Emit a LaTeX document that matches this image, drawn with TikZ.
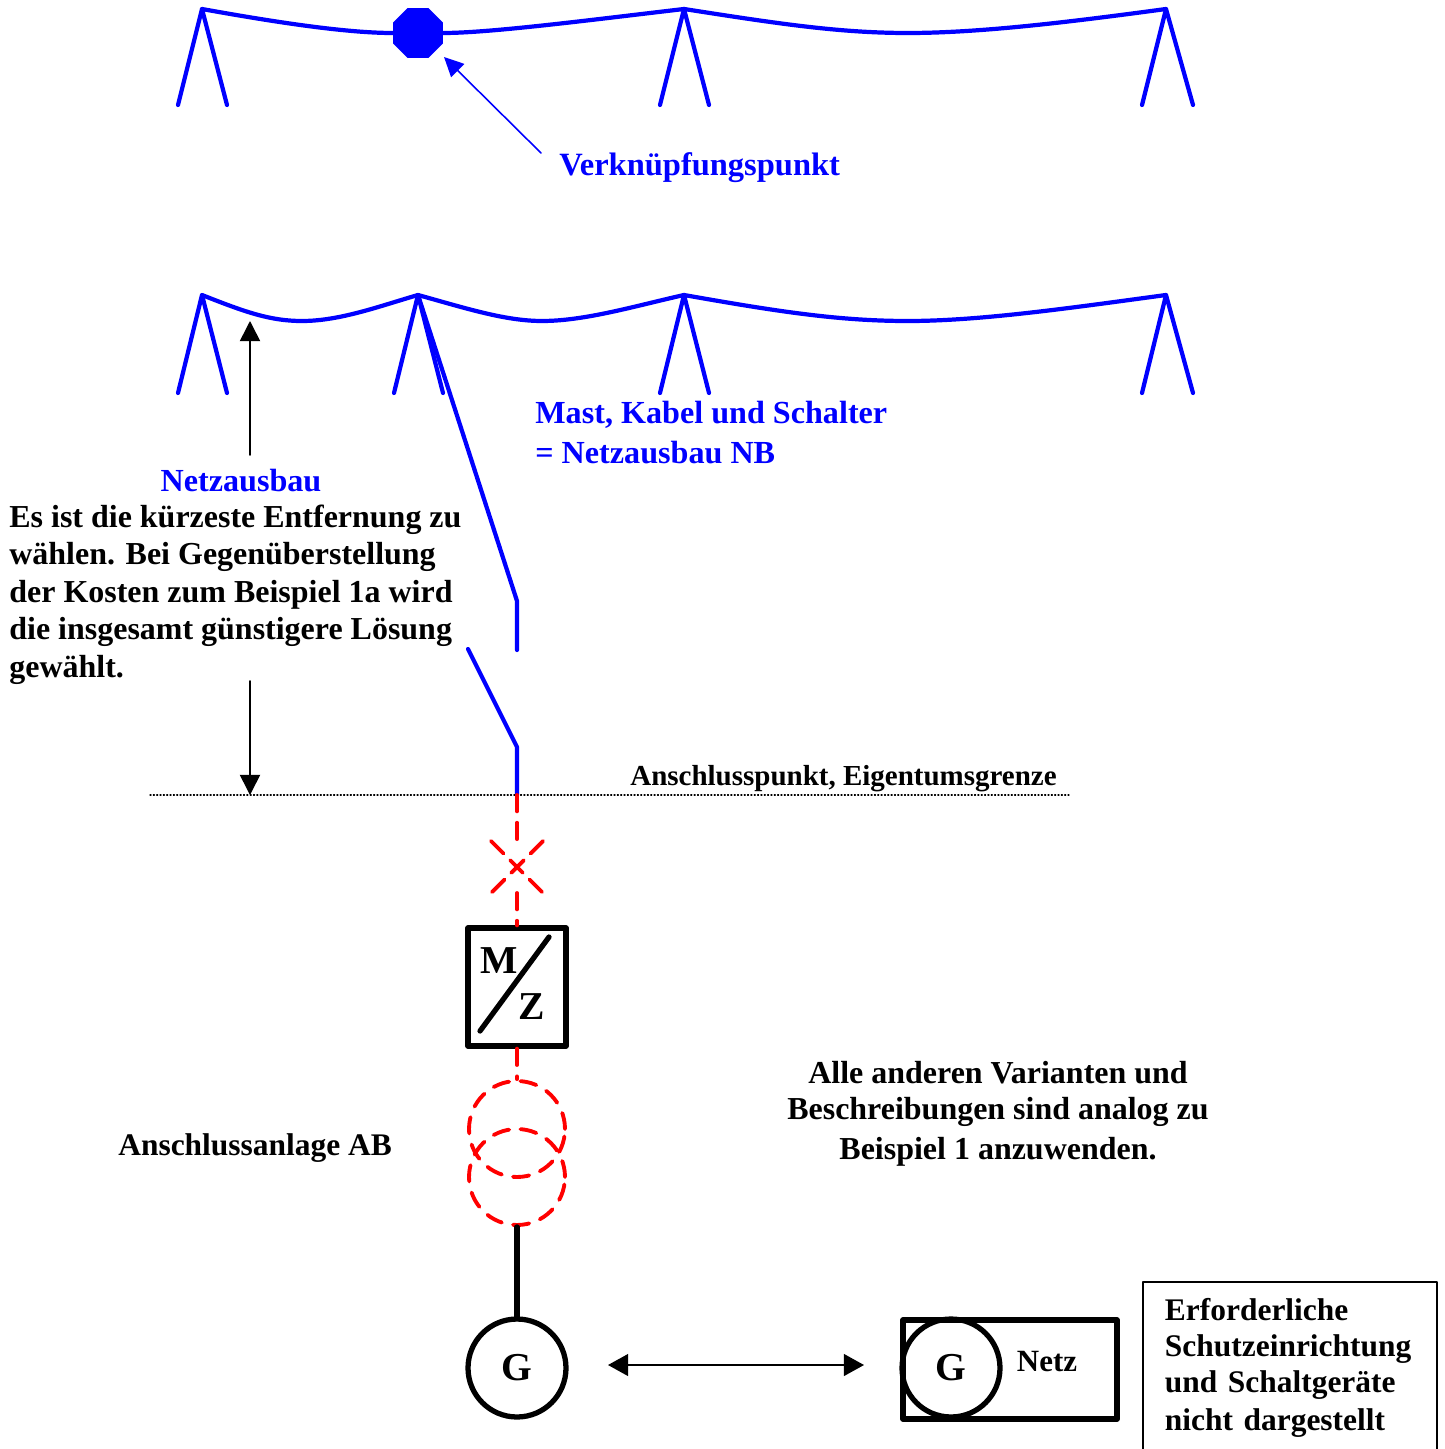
\documentclass[tikz,border=0pt]{standalone}
\usepackage{fontspec}
\setmainfont{Liberation Serif}
\usetikzlibrary{arrows.meta,shapes.geometric}
\tikzset{
    wire/.style={blue,line width=2.4pt},
    lbl/.style={font=\bfseries\fontsize{18.3}{21.3}\selectfont,inner sep=0pt,align=left},
    biglbl/.style={lbl,font=\bfseries\fontsize{22.5}{26}\selectfont},
    smalllbl/.style={lbl,font=\bfseries\fontsize{16.5}{20}\selectfont},
    bluelbl/.style={lbl,text=blue},
    reddash/.style={red,line width=2.2pt,dash pattern=on 9.3pt off 6.5pt},
    crossdash/.style={red,line width=2.2pt,dash pattern=on 10pt off 5.5pt},
    heavy/.style={draw,line width=3pt,inner sep=0pt},
    geno/.style={heavy,circle,minimum size=1.96cm,biglbl},
    thinarrow/.style={line width=0.9pt,-{Triangle[length=11.5pt,width=11.5pt]}}
}
\begin{document}
\begin{tikzpicture}[x=0.02cm,y=-0.02cm, line join=round, line cap=round]
    \useasboundingbox (0,0) rectangle (1444,1449);
    \def\yo{9} \def\yu{295} % Masthoehen
    \coordinate (a1) at (202,\yo); \coordinate (a2) at (684,\yo); \coordinate (a3) at (1166,\yo);
    \coordinate (b1) at (202,\yu); \coordinate (b2) at (418,\yu); \coordinate (b3) at (684,\yu); \coordinate (b4) at (1166,\yu);
    \foreach \p/\r in {a1/0.5,a2/0.5,a3/0.54} {
        \draw[wire] ([xshift=-0.48cm,yshift=-1.92cm]\p) -- (\p) -- ([xshift=\r cm,yshift=-1.92cm]\p);
    }
    \foreach \p/\r in {b1/0.5,b2/0.5,b3/0.5,b4/0.54} {
        \draw[wire] ([xshift=-0.48cm,yshift=-1.96cm]\p) -- (\p) -- ([xshift=\r cm,yshift=-1.96cm]\p);
    }
    \node[regular polygon,regular polygon sides=8,minimum size=1.08cm,fill=blue,inner sep=0pt] (vkp) at (418,33) {};
    \draw[wire] (a1) .. controls (285,24) and (350,33) .. (vkp);
    \draw[wire] (vkp) .. controls (490,33) and (590,20) .. (a2);
    \draw[wire] (a2) .. controls (780,24) and (840,33) .. (908,33) .. controls (980,33) and (1070,22) .. (a3);
    \draw[wire] (b1) .. controls (245,312) and (270,321) .. (302,321) .. controls (340,321) and (380,306) .. (b2);
    \draw[wire] (b2) .. controls (465,308) and (505,321) .. (542,321) .. controls (585,321) and (635,306) .. (b3);
    \draw[wire] (b3) .. controls (780,312) and (840,321) .. (908,321) .. controls (980,321) and (1070,308) .. (b4);
    % Kabel und Schalter
    \coordinate (k1) at (517,601); \coordinate (k2) at (517,650);
    \coordinate (s1) at (468,649); \coordinate (s2) at (517,747);
    \coordinate (ap) at (517,795);
    \draw[wire] (b2) -- (k1) -- (k2);
    \draw[wire] (s1) -- (s2) -- (ap);
    \coordinate (dl) at (150,795); \coordinate (dr) at (1069,795);
    \draw[line width=0.7pt,dash pattern=on 0.6pt off 1.3pt] (dl) -- (dr);
    % Anschlussanlage
    \node[heavy,rectangle,minimum width=1.96cm,minimum height=2.36cm] (meter) at (517,987) {};
    \node[biglbl] (mm) at (499,961) {M};
    \node[biglbl] (zz) at (532,1007) {Z};
    \coordinate (d1) at (480,1031); \coordinate (d2) at (549,937);
    \draw[line width=3pt] (d1) -- (d2);
    \coordinate (x1) at (491,841); \coordinate (x2) at (543,893);
    \coordinate (x3) at (543,841); \coordinate (x4) at (491,893);
    \coordinate (v3) at (517,841); \coordinate (v4) at (517,893);
    \draw[reddash] (ap) -- (v3);
    \draw[reddash] (v4) -- (meter.north);
    \draw[crossdash] (x1) -- (x2);
    \draw[crossdash] (x3) -- (x4);
    \node[draw=red,circle,reddash,minimum size=1.92cm,inner sep=0pt] (tr1) at (517,1129) {};
    \node[draw=red,circle,reddash,minimum size=1.92cm,inner sep=0pt] (tr2) at (517,1177) {};
    \draw[reddash] (meter.south) -- (tr1.north);
    \node[geno] (g1) at (517,1368) {G};
    \draw[line width=3pt] (tr2.south) -- (g1.north);
    \node[heavy,rectangle,minimum width=4.28cm,minimum height=1.98cm] (netz) at (1010,1369.5) {};
    \node[geno] (g2) at (951,1368) {G};
    \node[smalllbl,font=\bfseries\fontsize{17.6}{20}\selectfont] (nz) at (1047,1362) {Netz};
    \coordinate (p1) at (608,1365); \coordinate (p2) at (864,1365);
    \draw[line width=0.9pt,{Triangle[length=11.5pt,width=12.5pt]}-{Triangle[length=11.5pt,width=12.5pt]}] (p1) -- (p2);
    % Pfeile
    \coordinate (v1) at (541,153); \coordinate (v2) at (444,57);
    \draw[thinarrow,blue,-{Triangle[length=11pt,width=10.5pt]}] (v1) -- (v2);
    \coordinate (n1) at (250,455); \coordinate (n2) at (250,321);
    \coordinate (n3) at (250,681); \coordinate (n4) at (250,795);
    \draw[thinarrow] (n1) -- (n2);
    \draw[thinarrow] (n3) -- (n4);
    % Texte
    \node[bluelbl,font=\bfseries\fontsize{18.5}{21.3}\selectfont,anchor=base west] (vt) at (559,176) {Verknüpfungspunkt};
    \node[bluelbl,anchor=north west] (mk) at (535,401) {Mast, Kabel und Schalter\\[1.5pt]= Netzausbau NB};
    \node[bluelbl,anchor=base] (na) at (241,491) {Netzausbau};
    \node[lbl,font=\bfseries\fontsize{18.2}{21.1}\selectfont,anchor=north west] (es) at (9,505) {Es ist die kürzeste Entfernung zu\\wählen. Bei Gegenüberstellung\\der Kosten zum Beispiel 1a wird\\die insgesamt günstigere Lösung\\[1pt]gewählt.};
    \node[smalllbl,anchor=base west] (ae) at (630,785) {Anschlusspunkt, Eigentumsgrenze};
    \node[lbl,font=\bfseries\fontsize{17.9}{21.3}\selectfont,anchor=base west] (ab) at (118,1155) {Anschlussanlage AB};
    \node[lbl,font=\bfseries\fontsize{18.2}{20.5}\selectfont,align=center,anchor=north] (al) at (998,1061) {Alle anderen Varianten und\\Beschreibungen sind analog zu\\[2.3pt]Beispiel 1 anzuwenden.};
    \node[lbl,font=\bfseries\fontsize{17.9}{20.6}\selectfont,draw,line width=1.1pt,anchor=north west,minimum width=5.88cm,minimum height=3.44cm,inner xsep=0.44cm,text width=5cm] (nb) at (1142,1281) {Erforderliche\\Schutzeinrichtung\\und Schaltgeräte\\[1pt]nicht dargestellt};
\end{tikzpicture}
\end{document}
